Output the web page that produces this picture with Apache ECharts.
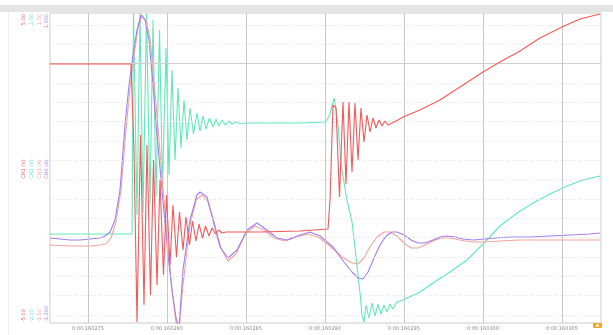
<!DOCTYPE html>
<html>
<head>
<meta charset="utf-8">
<script src="https://cdn.jsdelivr.net/npm/echarts@6/dist/echarts.min.js"></script>
<style>html,body{margin:0;padding:0;background:#fff}#c{width:613px;height:335px}</style>
</head>
<body>
<div id="c"></div>
<script>
// x: sample index, y: ADC counts (19.33 counts per division)
const timeLabels = ['0:00.160275','0:00.160280','0:00.160285','0:00.160290','0:00.160295','0:00.160300','0:00.160305'];
const timeTicks = [38,117,196,275,354,433,512];
const chNames = ['CH1 (V)','CH2 (V)','CH3 (A)','CH4 (A)'];
const topLabels = ['5.00','2.00','1.50','1.000'];
const bottomLabels = ['-5.00','-2.00','-1.50','-1.000'];
const chColors = ['#f45858','#5ee9b6','#f5a3a0','#a07ef0'];

const ch1 = [[0,251],[81,251],[82,249],[84,165],[87,-7],[90.5,180],[94,10],[97,170],[100.5,20],[103.5,155],[107,30],[110,135],[113.5,40],[116.5,120],[120,50],[123,110],[126.5,58],[129.5,103],[133,65],[136,98],[139.5,70],[142.5,94],[146,74],[149,91],[152.5,77],[155.5,89],[159,79],[162,87],[165.5,81],[169,85],[172,82],[176,83],[210,83],[250,84],[278,86],[280,115],[283,210],[286,207],[289.5,118],[293,213],[296,131],[299,213],[302,143],[305,212],[308,155],[311,207],[314,173],[317,200],[320,183],[323,197],[326,187],[329,195],[332,189],[335,194],[338,190],[342,192],[348,195],[353,198],[370,205],[390,215],[410,228],[433,243],[450,253],[470,264],[490,277],[512,288],[530,296],[550,301]];

const ch2 = [[0,81],[82,81],[83.5,302],[87,100],[90,302],[93,103],[96.5,301],[100,110],[103,295],[106,118],[109.5,285],[112.5,128],[116,267],[119,140],[122,245],[125,155],[128,227],[131,167],[134,215],[137,175],[140,207],[143.5,181],[147,202],[150,184],[153,199],[156,186],[159.5,197],[163,188],[166,196],[169,189],[172,195],[175.5,190],[179,194],[182,191],[186,193],[190,191.5],[200,192],[250,192],[276,193],[280,201],[284,217],[286,207],[288,190],[290,165],[292,145],[294,133],[296,120],[298,110],[300,102],[302,93],[305,68],[308,40],[310,22],[312,0],[314,-7],[316,10],[319,-3],[322,12],[325,-1],[328,11],[331,1],[334,10],[337,3],[340,11],[343,6],[347,13],[353,15],[370,23],[383,32],[400,43],[417,55],[433,71],[450,89],[467,102],[483,112],[500,121],[517,129],[533,135],[550,139]];

const ch3 = [[0,70],[20,69],[40,69],[50,70],[56,71],[61,77],[66,93],[71,125],[76,185],[80,227],[84,260],[88,287],[92,300],[96,294],[100,277],[104,235],[108,187],[113,127],[118,70],[122,25],[126,-7],[129,-15],[133,30],[140,90],[146,115],[152,120],[158,113],[164,93],[171,67],[178,54],[186,61],[196,82],[205,89],[214,85],[224,77],[235,74],[247,78],[258,81],[268,78],[280,69],[292,58],[302,52],[308,51],[314,57],[320,68],[327,78],[334,83],[340,83],[347,79],[354,72],[361,67],[368,67],[375,70],[383,74],[391,77],[400,77],[410,75],[422,73],[435,73],[450,74],[470,75],[500,75],[530,75],[550,75]];

const ch4 = [[0,77],[10,76],[20,75],[30,75],[40,76],[50,77],[55,79],[60,83],[65,95],[70,125],[75,190],[79,230],[83,260],[87,285],[91,300],[95,295],[99,275],[103,230],[107,180],[112,125],[118,60],[122,25],[126,-3],[129,-13],[133,45],[140,95],[147,120],[150,123],[157,118],[163,95],[170,68],[178,57],[187,65],[197,85],[207,92],[217,85],[227,77],[237,75],[250,80],[260,83],[270,79],[283,68],[294,53],[302,43],[308,37],[313,36],[318,43],[324,57],[330,70],[336,79],[342,83],[347,83],[354,80],[361,75],[368,72],[375,72],[383,75],[390,78],[397,79],[405,78],[413,76],[423,75],[435,76],[445,77],[460,78],[480,78],[500,79],[520,80],[540,81],[550,82]];

const chart = echarts.init(document.getElementById('c'), null, {renderer:'canvas'});

const hLines = [];
for (let k = 0; k <= 15; k++) {
  const v = k * 290 / 15;
  hLines.push({yAxis: v, lineStyle: k === 13 ? {type:'solid', color:'#cfcfcf', width:1} : {type:[1,2], color:'#e2e2e2', width:1}});
}
const vLines = timeTicks.map(t => ({xAxis: t, lineStyle:{type:'solid', color:'#c8c8c8', width:1}}));

const graphics = [
  {type:'rect', shape:{x:0,y:5,width:613,height:7}, style:{fill:'#e4e4e4'}, silent:true},
  {type:'line', shape:{x1:8.5,y1:12,x2:8.5,y2:335}, style:{stroke:'#eeeeee', lineWidth:1}, silent:true},
  {type:'rect', shape:{x:593,y:323,width:9,height:5,r:1}, style:{fill:'#f5a623'}, silent:true},
  {type:'rect', shape:{x:596,y:324.5,width:3,height:2}, style:{fill:'#ffffff'}, silent:true}
];
const labelX = [24,32,39.5,47];
for (let i = 0; i < 4; i++) {
  const base = {type:'text', x: labelX[i], rotation: Math.PI/2, silent:true};
  const st = {fill: chColors[i], font: '5px "DejaVu Sans"', verticalAlign:'middle'};
  graphics.push(Object.assign({}, base, {y: 14, style: Object.assign({}, st, {text: topLabels[i], align:'right'})}));
  graphics.push(Object.assign({}, base, {y: 169, style: Object.assign({}, st, {text: chNames[i], align:'center'})}));
  graphics.push(Object.assign({}, base, {y: 322, style: Object.assign({}, st, {text: bottomLabels[i], align:'left'})}));
}

function mk(name, data, color, z) {
  return {name, type:'line', data, symbol:'none', smooth:false, z,
    lineStyle:{color, width:1.1}, itemStyle:{color}, clip:true, animation:false};
}

chart.setOption({
  animation:false,
  backgroundColor:'#ffffff',
  grid:{left:50, top:13, width:551, height:310, show:true, borderColor:'#cccccc', borderWidth:1, backgroundColor:'transparent'},
  xAxis:{type:'value', min:0, max:551,
    axisLine:{show:false}, axisTick:{show:false}, splitLine:{show:false},
    axisLabel:{customValues: timeTicks, formatter: v => timeLabels[timeTicks.indexOf(v)] || '', fontSize:5, color:'#888', margin:3, fontFamily:'DejaVu Sans'}},
  yAxis:{type:'value', min:-8, max:302, axisLine:{show:false}, axisTick:{show:false}, axisLabel:{show:false}, splitLine:{show:false}},
  graphic: graphics,
  series:[
    {type:'line', data:[], silent:true, z:1, markLine:{silent:true, symbol:'none', label:{show:false}, animation:false, data: hLines.concat(vLines)}},
    mk('CH2', ch2, chColors[1], 2),
    mk('CH3', ch3, chColors[2], 3),
    mk('CH4', ch4, chColors[3], 4),
    mk('CH1', ch1, chColors[0], 5)
  ]
});
</script>
</body>
</html>
